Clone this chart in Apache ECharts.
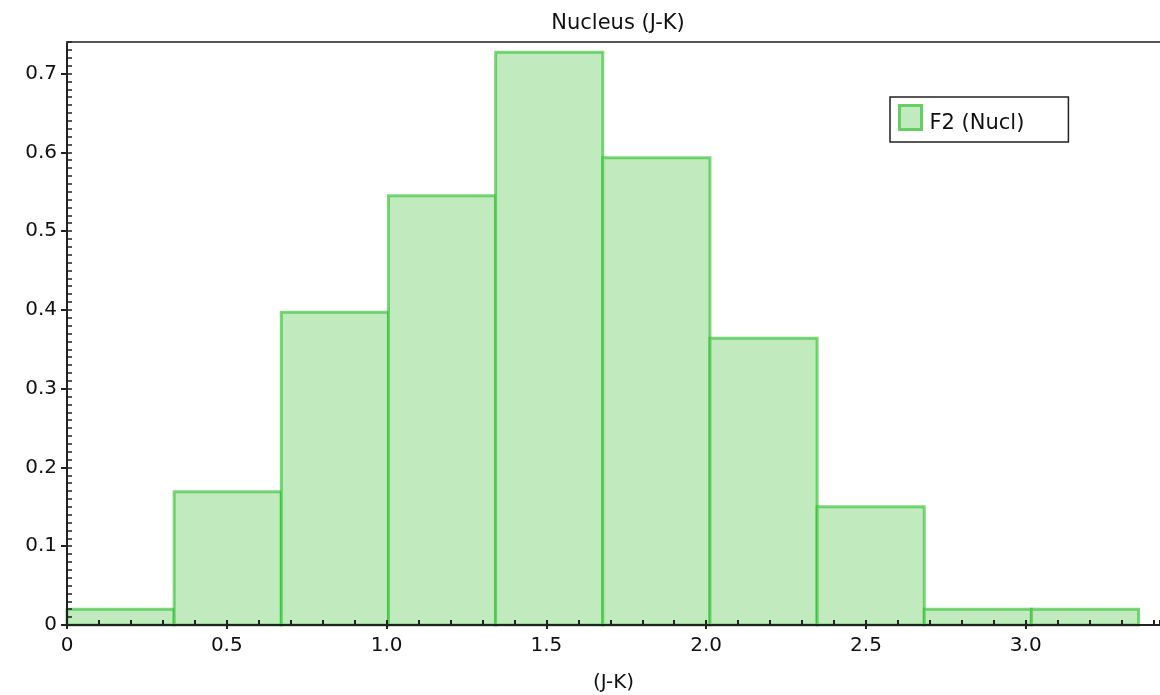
<!DOCTYPE html>
<html>
<head>
<meta charset="utf-8">
<script src="https://cdn.jsdelivr.net/npm/echarts@6/dist/echarts.min.js"></script>
<style>html,body{margin:0;padding:0;background:#fff}#c{width:1160px;height:695px}</style>
</head>
<body>
<div id="c"></div>
<script>
// Histogram bins (J-K) and density values
const binStart = [0, 0.3353, 0.6706, 1.0059, 1.3412, 1.6765, 2.0118, 2.3471, 2.6824, 3.0177];
const binEnd   = [0.3353, 0.6706, 1.0059, 1.3412, 1.6765, 2.0118, 2.3471, 2.6824, 3.0177, 3.353];
const density  = [0.020, 0.169, 0.397, 0.545, 0.727, 0.593, 0.364, 0.150, 0.020, 0.020];
const seriesName = 'F2 (Nucl)';
const titleText = 'Nucleus (J-K)';
const xName = '(J-K)';

const data = binStart.map((s, i) => [s, binEnd[i], density[i]]);
const FONT = 'DejaVu Sans';
const axisColor = '#222';

const chart = echarts.init(document.getElementById('c'), null, {renderer: 'canvas'});
chart.setOption({
  animation: false,
  backgroundColor: '#fff',
  title: {
    text: titleText, left: 613, top: 8, textAlign: 'center',
    textStyle: {fontFamily: FONT, fontSize: 21, fontWeight: 'normal', color: '#111'}
  },
  legend: {
    left: 890, top: 97,
    orient: 'vertical',
    padding: [7, 44, 8, 8],
    borderColor: '#222', borderWidth: 1.5,
    itemWidth: 22, itemHeight: 24,
    icon: 'rect',
    data: [{name: seriesName, itemStyle: {color: '#c1eabf', borderColor: '#65cf64', borderWidth: 3}}],
    formatter: '{t|{name}}',
    textStyle: {fontFamily: FONT, fontSize: 21, color: '#111',
      rich: {t: {fontFamily: FONT, fontSize: 21, color: '#111', padding: [12, 0, 0, 3]}}}
  },
  grid: {left: 67, top: 42, right: 0, bottom: 70, containLabel: false, outerBoundsMode: 'none'},
  xAxis: [
    {
      type: 'value', min: 0, max: 3.42, interval: 0.5, position: 'bottom', z: 5,
      name: xName, nameLocation: 'middle', nameGap: 48,
      nameTextStyle: {fontFamily: FONT, fontSize: 20, color: '#111'},
      axisLine: {show: true, lineStyle: {color: axisColor, width: 2}},
      axisTick: {show: true, inside: false, length: 4, lineStyle: {color: axisColor, width: 2}},
      axisLabel: {fontFamily: FONT, fontSize: 20, color: '#111', margin: 11, showMaxLabel: false,
        formatter: v => v === 0 ? '0' : v.toFixed(1)},
      splitLine: {show: false}
    },
    {
      type: 'value', min: 0, max: 3.42, interval: 0.1, position: 'bottom', z: 5,
      axisLine: {show: false},
      axisTick: {show: true, inside: true, length: 5, lineStyle: {color: axisColor, width: 2}},
      axisLabel: {show: false},
      splitLine: {show: false}
    },
    {
      type: 'value', min: 0, max: 3.42, position: 'top', z: 5,
      axisLine: {show: true, lineStyle: {color: '#555', width: 2}},
      axisTick: {show: false}, axisLabel: {show: false}, splitLine: {show: false}
    }
  ],
  yAxis: [
    {
      type: 'value', min: 0, max: 0.74, interval: 0.1, position: 'left', z: 5,
      axisLine: {show: true, lineStyle: {color: axisColor, width: 2}},
      axisTick: {show: true, inside: false, length: 6, lineStyle: {color: axisColor, width: 2}},
      axisLabel: {fontFamily: FONT, fontSize: 20, color: '#111', margin: 10, showMaxLabel: false,
        formatter: v => v === 0 ? '0' : v.toFixed(1)},
      splitLine: {show: false}
    },
    {
      type: 'value', min: 0, max: 0.74, interval: 0.01, position: 'left', z: 5,
      axisLine: {show: false},
      axisTick: {show: true, inside: true, length: 5, lineStyle: {color: axisColor, width: 1.5}},
      axisLabel: {show: false},
      splitLine: {show: false}
    }
  ],
  series: [{
    name: seriesName,
    type: 'custom',
    xAxisIndex: 0, yAxisIndex: 0,
    encode: {x: [0, 1], y: 2},
    itemStyle: {color: '#c1eabf', borderColor: '#65cf64', borderWidth: 3},
    renderItem: function (params, api) {
      const p0 = api.coord([api.value(0), api.value(2)]);
      const p1 = api.coord([api.value(1), 0]);
      return {
        type: 'rect',
        shape: {x: p0[0], y: p0[1], width: p1[0] - p0[0], height: p1[1] - p0[1]},
        style: {fill: '#c1eabf', stroke: 'rgba(40,190,40,0.6)', lineWidth: 3}
      };
    },
    data: data
  }]
});
</script>
</body>
</html>
